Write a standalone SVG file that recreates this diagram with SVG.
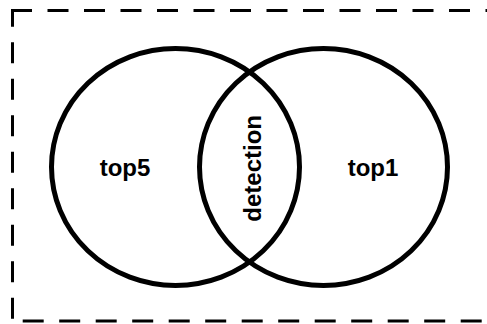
<svg xmlns="http://www.w3.org/2000/svg" width="487" height="324" viewBox="0 0 487 324">
<style>
.frame{fill:none;stroke:#000;stroke-width:3;stroke-dasharray:21 15.5}
.set{fill:none;stroke:#000;stroke-width:5}
</style>
<rect width="487" height="324" fill="#fff"/>
<g id="frame">
<line class="frame" x1="11" y1="10.5" x2="490" y2="10.5"/>
<line class="frame" x1="12.5" y1="9" x2="12.5" y2="324" stroke-dashoffset="3.2"/>
<line class="frame" x1="22.7" y1="321" x2="490" y2="321"/>
</g>
<g font-family="Liberation Sans, sans-serif" font-weight="bold" font-size="24" text-anchor="middle" fill="#000">
<g id="top5">
<ellipse class="set" cx="175.5" cy="167" rx="124" ry="118.5"/>
<text x="125" y="176">top5</text>
</g>
<g id="top1">
<ellipse class="set" cx="323.5" cy="167" rx="124" ry="118.5"/>
<text x="373" y="176">top1</text>
</g>
<g id="detection">
<text transform="translate(260.5,168.3) rotate(-90)">detection</text>
</g>
</g>
</svg>
